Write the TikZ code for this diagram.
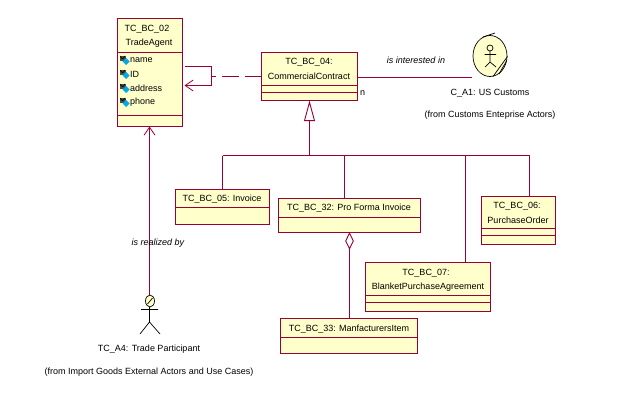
\documentclass[tikz,border=0pt]{standalone}
\usepackage{fontspec}
\setmainfont{Liberation Sans}
\usetikzlibrary{positioning, shapes.geometric, arrows.meta, calc}
\definecolor{umlline}{RGB}{153,0,51}
\definecolor{umlfill}{RGB}{255,255,204}
\definecolor{umlblue}{RGB}{0,170,230}
\tikzset{
    classbox/.style={draw=umlline, fill=umlfill, line width=1pt, anchor=north west, inner sep=0pt, outer sep=0pt},
    umlconn/.style={draw=umlline, line width=0.9pt},
    openarrow/.style={-{Straight Barb[length=8pt, width=11pt, line width=0.8pt]}},
    umltext/.style={font=\fontsize{9}{10}\selectfont, inner sep=0pt, text=black},
    stickman/.style={draw=black, line width=0.7pt}
}
\begin{document}
\begin{tikzpicture}[x=1pt, y=-1pt]
    \useasboundingbox (0,0) rectangle (636,417);

    % class boxes: name/left/top/right/bottom
    \foreach \nm/\xa/\ya/\xb/\yb in {agent/117.5/18.5/182.5/126.5, contract/261.5/52.5/357.5/100.5,
        invoice/175.5/189.5/269.5/224.5, proforma/278.5/198.5/420.5/232.5,
        purchase/481.5/196.5/555.5/244.5, blanket/365.5/262.5/490.5/311.5, mfitem/280.5/318.5/417.5/353.5} {
        \pgfmathsetmacro{\boxw}{\xb-\xa}
        \pgfmathsetmacro{\boxh}{\yb-\ya}
        \node[classbox, minimum width=\boxw pt, minimum height=\boxh pt] (\nm) at (\xa,\ya) {};
    }

    % compartment lines
    \foreach \nm/\y in {agent/52.5, agent/115.5, contract/85.5, contract/92.5, invoice/207.5, proforma/217.5,
        purchase/228.5, purchase/235.5, blanket/295.5, blanket/302.5, mfitem/337.5} {
        \draw[umlconn] (\nm.west |- 0,\y) -- (\nm.east |- 0,\y);
    }

    % class labels
    \node[umltext] (agenta) at (147,29) {TC\_BC\_02};
    \node[umltext] (agentb) at (149,43) {TradeAgent};
    \node[umltext] (contracta) at (309,62) {TC\_BC\_04:};
    \node[umltext] (contractb) at (309,76) {CommercialContract};
    \node[umltext] (invoicea) at (222,199) {TC\_BC\_05: Invoice};
    \node[umltext] (proformaa) at (349,208) {TC\_BC\_32: Pro Forma Invoice};
    \node[umltext] (purchasea) at (517,206) {TC\_BC\_06:};
    \node[umltext] (purchaseb) at (518,220) {PurchaseOrder};
    \node[umltext] (blanketa) at (426,273) {TC\_BC\_07:};
    \node[umltext] (blanketb) at (428,287) {BlanketPurchaseAgreement};
    \node[umltext] (mfitema) at (349,329) {TC\_BC\_33: ManfacturersItem};

    % attributes, each with its lock and blue diamond
    \foreach \nm/\lbl/\y in {attra/name/60, attrb/ID/74, attrc/address/88, attrd/phone/102} {
        \fill[gray!60!black] (119.5,\y-4) rectangle (125.5,\y+1);
        \draw[black, line width=0.7pt] (120.5,\y-4) arc (180:0:2 and 2.5);
        \fill[umlblue] (126,\y-2) -- (129.5,\y+1.5) -- (126,\y+5) -- (122.5,\y+1.5) -- cycle;
        \node[umltext, anchor=west] (\nm) at (130,\y) {\lbl};
    }

    % self loop on the agent and the dashed line from the contract
    \coordinate (loopa) at (211.5,66.5);
    \coordinate (loopb) at (211.5,85.5);
    \coordinate (loopc) at (211.5,76.5);
    \draw[umlconn, openarrow] ($(agent.east |- loopa)+(2,0)$) -- (loopa) -- (loopb) -- ($(agent.east |- loopb)+(2,0)$);
    \draw[umlconn, dash pattern=on 17pt off 6pt] (contract.west |- loopc) -- (loopc);

    % customs actor
    \node[draw=black, fill=umlfill, ellipse, line width=0.7pt, minimum width=34pt, minimum height=41pt, inner sep=0pt] (customs) at (490,56) {};
    \coordinate (assocend) at (472,77.5);
    \draw[umlconn] (contract.east |- assocend) -- (assocend);
    \node[umltext, font=\fontsize{9}{10}\selectfont\itshape] (assoclbl) at (416,60) {is interested in};
    \node[umltext] (multi) at (362.5,93) {n};
    \draw[stickman] (490,48) circle[radius=3];
    \draw[stickman] (490,51) -- (490,62) (484.5,54.5) -- (496,54.5) (485,67) -- (490,62) -- (496,67);
    \draw[stickman] (483,37) -- (495,33);
    \draw[stickman] (493,76.5) -- (507.5,56.5) (499,74) -- (506.5,61);
    \node[umltext] (customsa) at (490,93.5) {C\_A1: US Customs};
    \node[umltext] (customsb) at (490,115) {(from Customs Enteprise Actors)};

    % generalization tree
    \node[draw=umlline, fill=white, isosceles triangle, isosceles triangle stretches, shape border rotate=90, line width=0.9pt, minimum height=18.5pt, minimum width=10pt, inner sep=0pt, anchor=apex] (genhead) at (309.5,101) {};
    \coordinate (genmid) at (309.5,155.5);
    \coordinate (genend) at (529.5,155.5);
    \draw[umlconn] (genhead.south) -- (genmid);
    \draw[umlconn] (invoice |- genmid) -- (genend);
    \foreach \nm/\x in {invoice/222.5, proforma/344.5, blanket/465.5, purchase/529.5} {
        \draw[umlconn] (\x,155.5) -- (\nm.north -| \x,0);
    }

    % aggregation
    \node[draw=umlline, fill=white, diamond, line width=0.9pt, minimum width=8pt, minimum height=16pt, inner sep=0pt, anchor=north] (aggr) at (349.5,232.5) {};
    \draw[umlconn] (aggr.south) -- (mfitem.north -| aggr.south);

    % trade participant actor
    \node[draw=black, fill=umlfill, ellipse, line width=0.7pt, minimum width=9pt, minimum height=12pt, inner sep=0pt] (trader) at (150,301) {};
    \draw[stickman] (147.5,304) -- (152.5,298);
    \draw[stickman] (141,309.5) -- (158,309.5) (149.5,307) -- (149.5,322) (140,334) -- (149.5,322) -- (160,334);
    \draw[umlconn, openarrow] (trader.north -| 149.5,0) -- (agent.south -| 149.5,0);
    \node[umltext, font=\fontsize{9}{10}\selectfont\itshape] (reallbl) at (158,243) {is realized by};
    \node[umltext] (tradera) at (149,349.5) {TC\_A4: Trade Participant};
    \node[umltext] (traderb) at (149,372.5) {(from Import Goods External Actors and Use Cases)};
\end{tikzpicture}
\end{document}
